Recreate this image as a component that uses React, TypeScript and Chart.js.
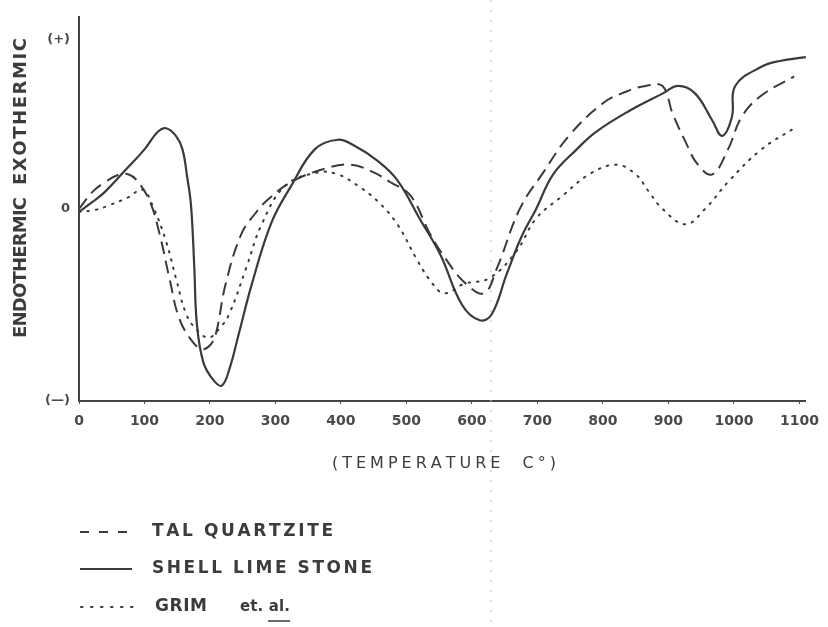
import { useEffect, useRef } from 'react';
import { Chart, registerables } from 'chart.js';

Chart.register(...registerables);

// ---- data ----
const xTicks = [0, 100, 200, 300, 400, 500, 600, 700, 800, 900, 1000, 1100];
const yTickValues = [-1, 0, 0.88];
const yTickLabels = ['(—)', '0', '(+)'];

const talX = [0, 21, 40, 62, 75, 88, 108, 123, 138, 153, 173, 188, 200, 209, 224, 248, 270, 289, 324, 376, 415, 450, 475, 506, 536, 560, 588, 618, 638, 673, 709, 748, 800, 835, 865, 891, 906, 926, 945, 967, 991, 1012, 1042, 1092];
const talY = [0, 0.09, 0.14, 0.18, 0.18, 0.15, 0.04, -0.13, -0.36, -0.57, -0.69, -0.73, -0.71, -0.65, -0.39, -0.13, -0.02, 0.05, 0.14, 0.21, 0.23, 0.19, 0.14, 0.07, -0.13, -0.26, -0.38, -0.44, -0.31, 0, 0.19, 0.38, 0.55, 0.61, 0.64, 0.64, 0.5, 0.35, 0.23, 0.18, 0.31, 0.48, 0.59, 0.69];

const shellX = [0, 20, 40, 73, 100, 120, 133, 148, 158, 165, 171, 176, 180, 190, 205, 218, 230, 244, 264, 294, 324, 360, 395, 420, 456, 486, 520, 552, 585, 612, 630, 653, 675, 698, 724, 760, 789, 840, 891, 915, 941, 967, 982, 997, 1002, 1042, 1070, 1110];
const shellY = [-0.015, 0.035, 0.09, 0.21, 0.31, 0.4, 0.42, 0.38, 0.31, 0.17, 0.02, -0.3, -0.6, -0.8, -0.89, -0.92, -0.83, -0.65, -0.39, -0.07, 0.12, 0.31, 0.36, 0.33, 0.25, 0.15, -0.05, -0.24, -0.5, -0.58, -0.55, -0.34, -0.15, 0, 0.18, 0.31, 0.4, 0.51, 0.6, 0.64, 0.6, 0.46, 0.38, 0.48, 0.64, 0.74, 0.77, 0.79];

const grimX = [0, 25, 47, 75, 97, 112, 133, 148, 164, 180, 198, 215, 229, 255, 279, 315, 365, 395, 426, 456, 486, 517, 540, 558, 588, 627, 668, 698, 739, 779, 820, 850, 870, 891, 926, 956, 991, 1042, 1092];
const grimY = [-0.015, -0.005, 0.02, 0.06, 0.1, 0.02, -0.17, -0.36, -0.55, -0.63, -0.67, -0.62, -0.55, -0.31, -0.08, 0.12, 0.19, 0.18, 0.12, 0.04, -0.08, -0.27, -0.39, -0.44, -0.39, -0.36, -0.22, -0.05, 0.07, 0.18, 0.23, 0.18, 0.09, 0, -0.08, 0, 0.14, 0.31, 0.42];

const seriesLabels = ['TAL QUARTZITE', 'SHELL LIME STONE', 'GRIM'];
const foldLineX = 629;

const zip = (xs: number[], ys: number[]) => xs.map((x, i) => ({ x, y: ys[i] }));

const INK = '#3a3a3a';
const TEXT = '#3c3c3c';

function drawSpaced(ctx: CanvasRenderingContext2D, text: string, x: number, y: number, width: number) {
  const chars = Array.from(text);
  const natural = chars.reduce((s, c) => s + ctx.measureText(c).width, 0);
  const gap = chars.length > 1 ? (width - natural) / (chars.length - 1) : 0;
  let cx = x;
  ctx.textAlign = 'left';
  for (const c of chars) {
    ctx.fillText(c, cx, y);
    cx += ctx.measureText(c).width + gap;
  }
}

const decor = {
  id: 'decor',
  beforeDatasetsDraw(chart: any) {
    const ctx: CanvasRenderingContext2D = chart.ctx;
    const px = chart.scales.x.getPixelForValue(foldLineX);
    ctx.save();
    ctx.strokeStyle = '#bdbdbd';
    ctx.lineWidth = 1;
    ctx.setLineDash([2, 8]);
    ctx.beginPath();
    ctx.moveTo(px, 0);
    ctx.lineTo(px, chart.height);
    ctx.stroke();
    ctx.restore();
  },
  afterDraw(chart: any) {
    const ctx: CanvasRenderingContext2D = chart.ctx;
    ctx.save();
    ctx.fillStyle = TEXT;
    ctx.textBaseline = 'middle';

    // y-axis title (rotated)
    ctx.font = 'bold 18px "DejaVu Sans"';
    ctx.save();
    ctx.translate(21, 338);
    ctx.rotate(-Math.PI / 2);
    drawSpaced(ctx, 'ENDOTHERMIC', 0, 0, 141);
    ctx.restore();
    ctx.save();
    ctx.translate(21, 185);
    ctx.rotate(-Math.PI / 2);
    drawSpaced(ctx, 'EXOTHERMIC', 0, 0, 147);
    ctx.restore();

    // x-axis title
    ctx.font = '16px "DejaVu Sans"';
    drawSpaced(ctx, '(TEMPERATURE  C°)', 332, 464, 224);

    // legend
    ctx.strokeStyle = INK;
    ctx.lineWidth = 2;
    ctx.setLineDash([9, 10]);
    ctx.beginPath();
    ctx.moveTo(80, 532);
    ctx.lineTo(130, 532);
    ctx.stroke();
    ctx.setLineDash([]);
    ctx.beginPath();
    ctx.moveTo(80, 569);
    ctx.lineTo(132, 569);
    ctx.stroke();
    ctx.setLineDash([1.5, 8.5]);
    ctx.lineCap = 'round';
    ctx.beginPath();
    ctx.moveTo(81, 607);
    ctx.lineTo(133, 607);
    ctx.stroke();
    ctx.lineCap = 'butt';
    ctx.setLineDash([]);

    ctx.font = 'bold 17px "DejaVu Sans"';
    drawSpaced(ctx, seriesLabels[0], 152, 532, 181);
    drawSpaced(ctx, seriesLabels[1], 152, 569, 220);
    drawSpaced(ctx, seriesLabels[2], 155, 607, 52);
    ctx.font = 'bold 15px "DejaVu Sans"';
    drawSpaced(ctx, 'et. al.', 240, 607, 50);
    ctx.lineWidth = 1.5;
    ctx.beginPath();
    ctx.moveTo(268, 621);
    ctx.lineTo(290, 621);
    ctx.stroke();
    ctx.restore();
  },
};

export default function App() {
  const ref = useRef<HTMLCanvasElement | null>(null);
  useEffect(() => {
    document.body.style.margin = '0';
    const canvas = ref.current;
    if (!canvas) return;
    const chart = new Chart(canvas, {
      type: 'line',
      data: {
        datasets: [
          {
            label: seriesLabels[0],
            data: zip(talX, talY),
            borderColor: INK,
            borderWidth: 2,
            borderDash: [13, 7],
            pointRadius: 0,
            tension: 0.4,
            fill: false,
          },
          {
            label: seriesLabels[1],
            data: zip(shellX, shellY),
            borderColor: INK,
            borderWidth: 2.2,
            pointRadius: 0,
            tension: 0.4,
            fill: false,
          },
          {
            label: seriesLabels[2],
            data: zip(grimX, grimY),
            borderColor: INK,
            borderWidth: 2,
            borderDash: [1.5, 7],
            borderCapStyle: 'round',
            pointRadius: 0,
            tension: 0.4,
            fill: false,
          },
        ],
      },
      options: {
        responsive: false,
        animation: false,
        devicePixelRatio: 1,
        layout: { padding: { top: 13, right: 13, left: 0, bottom: 0 } },
        plugins: { legend: { display: false }, tooltip: { enabled: false } },
        scales: {
          x: {
            type: 'linear',
            min: 0,
            max: 1110,
            afterBuildTicks: (s: any) => {
              s.ticks = xTicks.map((v) => ({ value: v }));
            },
            afterFit: (s: any) => {
              s.height = 226;
            },
            grid: { drawOnChartArea: false, drawTicks: true, tickLength: 3, color: '#555' },
            border: { color: '#444', width: 2 },
            ticks: {
              autoSkip: false,
              maxRotation: 0,
              padding: 9,
              color: '#4a4a4a',
              font: { family: 'DejaVu Sans', weight: 'bold', size: 14 },
              callback: (v: any) => String(v),
            },
          },
          y: {
            type: 'linear',
            min: -1,
            max: 1,
            afterBuildTicks: (s: any) => {
              s.ticks = yTickValues.map((v) => ({ value: v }));
            },
            afterFit: (s: any) => {
              s.width = 79;
            },
            grid: { drawOnChartArea: false, drawTicks: false },
            border: { color: '#444', width: 2 },
            ticks: {
              padding: 9,
              color: '#4a4a4a',
              font: { family: 'DejaVu Sans', weight: 'bold', size: 13 },
              callback: (v: any) => {
                const i = yTickValues.indexOf(Number(v));
                return i >= 0 ? yTickLabels[i] : '';
              },
            },
          },
        },
      },
      plugins: [decor],
    } as any);
    return () => chart.destroy();
  }, []);
  return (
    <div style={{ position: 'absolute', left: 0, top: 0, width: 828, height: 627, background: '#fff' }}>
      <canvas ref={ref} width={828} height={627} />
    </div>
  );
}
